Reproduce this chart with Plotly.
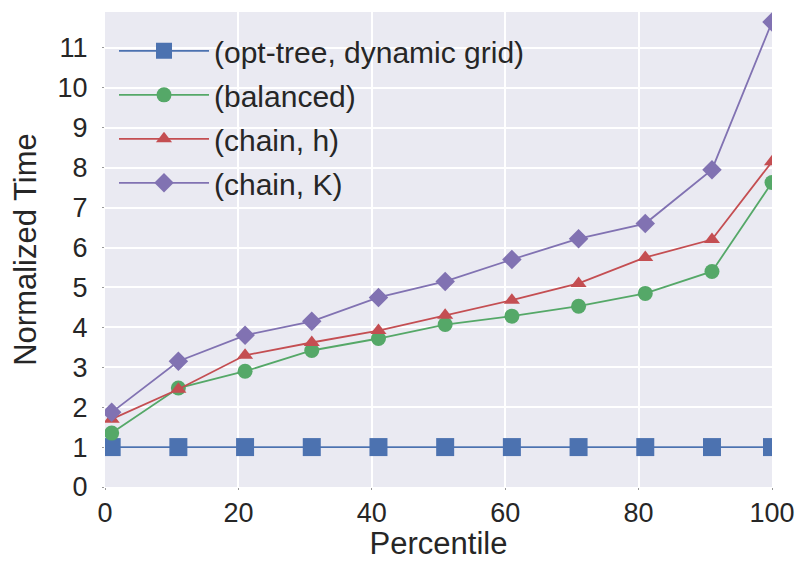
import plotly.graph_objects as go

percentile = [1, 11, 21, 31, 41, 51, 61, 71, 81, 91, 100]
opt_tree = [1, 1, 1, 1, 1, 1, 1, 1, 1, 1, 1]
balanced = [1.35, 2.48, 2.9, 3.42, 3.72, 4.07, 4.28, 4.53, 4.85, 5.4, 7.63]
chain_h = [1.7, 2.45, 3.3, 3.62, 3.92, 4.3, 4.68, 5.1, 5.75, 6.2, 8.15]
chain_k = [1.87, 3.15, 3.8, 4.15, 4.75, 5.15, 5.7, 6.22, 6.6, 7.95, 11.65]

names = ["(opt-tree, dynamic grid)", "(balanced)", "(chain, h)", "(chain, K)"]
series = [opt_tree, balanced, chain_h, chain_k]
colors = ["#4C72B0", "#55A868", "#C44E52", "#8172B2"]
symbols = ["square", "circle", "triangle-up", "diamond"]
sizes = [18, 15, 14, 15]

fig = go.Figure()
for i, (n, s) in enumerate(zip(names, series)):
    fig.add_trace(go.Scatter(
        x=percentile, y=s, name=n, mode="lines+markers",
        line=dict(color=colors[i], width=1.8),
        marker=dict(symbol=symbols[i], size=sizes[i], color=colors[i], line=dict(width=0)),
        legendgroup=f"g{i}", cliponaxis=True,
    ))

font = "Liberation Sans, Arial, sans-serif"
fig.update_layout(
    width=795, height=553,
    margin=dict(l=97, r=31, t=4, b=74),
    paper_bgcolor="white", plot_bgcolor="#EAEAF2",
    font=dict(family=font, size=27, color="#262626"),
    showlegend=True,
    legend=dict(x=0.0135, y=0.973, xanchor="left", yanchor="top",
                bgcolor="rgba(0,0,0,0)", font=dict(size=30, color="#262626"),
                itemwidth=90, tracegroupgap=2),
    xaxis=dict(range=[0, 100], tickvals=[0, 20, 40, 60, 80, 100],
               showgrid=True, gridcolor="white", gridwidth=1.5, zeroline=False,
               showline=False, ticks="outside", ticklen=2, tickcolor="#999",
               tickfont=dict(size=27), automargin=False, ticklabelstandoff=0,
               title=dict(text="Percentile", font=dict(size=31), standoff=2)),
    yaxis=dict(range=[0, 11.9], tickvals=list(range(0, 12)),
               showgrid=True, gridcolor="white", gridwidth=1.5, zeroline=False,
               showline=False, ticks="outside", ticklen=2, tickcolor="#999",
               tickfont=dict(size=27), automargin=False, ticklabelstandoff=9,
               title=dict(text="Normalized Time", font=dict(size=31), standoff=14)),
)
fig.write_html("out.html")
